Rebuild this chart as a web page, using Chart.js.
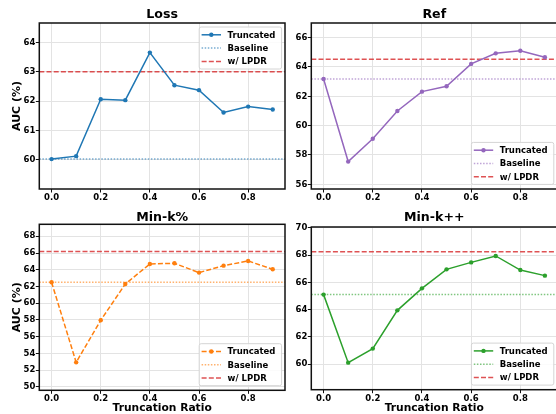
<!DOCTYPE html>
<html>
<head>
<meta charset="utf-8">
<script src="https://cdn.jsdelivr.net/npm/chart.js@4.4.0/dist/chart.umd.min.js"></script>
<style>
  html, body { margin: 0; padding: 0; background: #fff; width: 556px; height: 414px; overflow: hidden; position: relative; }
  .panel { position: absolute; }
  canvas { display: block; }
</style>
</head>
<body>
<div class="panel" style="left:0;top:0"><canvas id="loss" width="290" height="207"></canvas></div>
<div class="panel" style="left:290px;top:0"><canvas id="ref" width="270" height="207"></canvas></div>
<div class="panel" style="left:0;top:207px"><canvas id="mink" width="290" height="209"></canvas></div>
<div class="panel" style="left:290px;top:207px"><canvas id="minkpp" width="270" height="209"></canvas></div>

<script>
// truncation ratios on the x axis
const ratios = [0.0, 0.1, 0.2, 0.3, 0.4, 0.5, 0.6, 0.7, 0.8, 0.9];
const xTicks = [0.0, 0.2, 0.4, 0.6, 0.8];

// AUC (%) per method
const lossAuc = [60.02, 60.12, 62.06, 62.03, 63.65, 62.54, 62.37, 61.61, 61.81, 61.71];
const lossBaseline = 60.02;
const lossLpdr = 63.0;
const lossTicks = [60, 61, 62, 63, 64];

const refAuc = [63.18, 57.55, 59.11, 61.0, 62.32, 62.69, 64.21, 64.93, 65.11, 64.66];
const refBaseline = 63.18;
const refLpdr = 64.52;
const refTicks = [56, 58, 60, 62, 64, 66];

const minkAuc = [62.5, 52.94, 57.96, 62.3, 64.69, 64.77, 63.66, 64.49, 65.05, 64.06];
const minkBaseline = 62.5;
const minkLpdr = 66.17;
const minkTicks = [50, 52, 54, 56, 58, 60, 62, 64, 66, 68];

const minkppAuc = [65.1, 60.12, 61.15, 63.95, 65.56, 66.95, 67.46, 67.93, 66.9, 66.49];
const minkppBaseline = 65.1;
const minkppLpdr = 68.24;
const minkppTicks = [60, 62, 64, 66, 68, 70];

const FONT = "'DejaVu Sans', sans-serif";
const RED = 'rgba(214,39,40,0.8)';
const DOTS = [1.5, 1.6];
const DASH = [5, 2.2];

// axhline-style reference lines across the full plot width
const refLines = {
  id: 'refLines',
  beforeDatasetsDraw(chart, args, o) {
    const { ctx, chartArea: a, scales: { y } } = chart;
    ctx.save();
    ctx.lineWidth = 1.5;
    o.lines.forEach(l => {
      const py = y.getPixelForValue(l.value);
      ctx.strokeStyle = l.color;
      ctx.setLineDash(l.dash);
      ctx.beginPath();
      ctx.moveTo(a.left, py);
      ctx.lineTo(a.right, py);
      ctx.stroke();
    });
    ctx.restore();
  }
};

// box frame, panel title and legend
const decor = {
  id: 'decor',
  afterDatasetsDraw(chart, args, o) {
    const { ctx, chartArea: a } = chart;
    ctx.save();
    ctx.strokeStyle = '#111';
    ctx.lineWidth = 1.5;
    ctx.setLineDash([]);
    ctx.strokeRect(a.left, a.top, a.right - a.left, a.bottom - a.top);

    ctx.fillStyle = '#000';
    ctx.font = `bold 12.6px ${FONT}`;
    ctx.textAlign = 'center';
    ctx.textBaseline = 'middle';
    ctx.fillText(o.title, (a.left + a.right) / 2, o.titleY);

    const w = 82.4, h = 42, row = 13.3;
    const x = a.right - 3.4 - w;
    const y = o.corner === 'top' ? a.top + 4 : a.bottom - 4.6 - h;
    ctx.beginPath();
    ctx.roundRect(x, y, w, h, 2);
    ctx.fillStyle = 'rgba(255,255,255,0.85)';
    ctx.fill();
    ctx.strokeStyle = '#d4d4d4';
    ctx.lineWidth = 1;
    ctx.stroke();

    ctx.font = `bold 8.5px ${FONT}`;
    ctx.textAlign = 'left';
    o.items.forEach((it, i) => {
      const cy = y + 7.8 + i * row;
      ctx.strokeStyle = it.color;
      ctx.lineWidth = 1.5;
      ctx.setLineDash(it.dash);
      ctx.beginPath();
      ctx.moveTo(x + 2.4, cy);
      ctx.lineTo(x + 21.8, cy);
      ctx.stroke();
      if (it.marker) {
        ctx.setLineDash([]);
        ctx.fillStyle = it.color;
        ctx.beginPath();
        ctx.arc(x + 12.1, cy, 2.2, 0, Math.PI * 2);
        ctx.fill();
      }
      ctx.fillStyle = '#000';
      ctx.fillText(it.label, x + 28.4, cy + 0.5);
    });
    ctx.restore();
  }
};

function tickFont() {
  return { family: FONT, size: 8.5, weight: 'bold' };
}

function makePanel(id, p) {
  const lineDash = p.dashed ? DASH : [];
  return new Chart(document.getElementById(id), {
    type: 'line',
    data: {
      datasets: [{
        label: 'Truncated',
        data: ratios.map((r, i) => ({ x: r, y: p.values[i] })),
        borderColor: p.color,
        backgroundColor: p.color,
        borderWidth: 1.5,
        borderDash: lineDash,
        pointRadius: 2.2,
        pointBorderWidth: 0,
        pointHoverRadius: 0,
        tension: 0
      }]
    },
    options: {
      responsive: false,
      animation: false,
      events: [],
      layout: { padding: { left: 0, top: p.padTop, right: p.padRight, bottom: 0 } },
      plugins: {
        legend: { display: false },
        tooltip: { enabled: false },
        refLines: {
          lines: [
            { value: p.baseline, color: p.light, dash: DOTS },
            { value: p.lpdr, color: RED, dash: DASH }
          ]
        },
        decor: {
          title: p.title,
          titleY: p.titleY,
          corner: p.corner,
          items: [
            { label: 'Truncated', color: p.color, dash: lineDash, marker: true },
            { label: 'Baseline', color: p.light, dash: DOTS },
            { label: 'w/ LPDR', color: RED, dash: DASH }
          ]
        }
      },
      scales: {
        x: {
          type: 'linear',
          min: -0.05,
          max: 0.95,
          afterBuildTicks: s => { s.ticks = xTicks.map(v => ({ value: v })); },
          afterFit: s => { s.height = p.xh; },
          ticks: { font: tickFont(), color: '#000', padding: 0, maxRotation: 0, autoSkip: false,
                   callback: v => v.toFixed(1) },
          grid: { color: '#e3e3e3', lineWidth: 1, tickLength: 3.5, tickColor: '#111', tickWidth: 1 },
          border: { display: false },
          title: { display: p.xTitle, text: 'Truncation Ratio', color: '#000',
                   font: { family: FONT, size: 10.7, weight: 'bold' }, padding: { top: 0, bottom: 0.9 } }
        },
        y: {
          min: p.yMin,
          max: p.yMax,
          afterBuildTicks: s => { s.ticks = p.yTicks.map(v => ({ value: v })); },
          afterFit: s => { s.width = p.yw; },
          ticks: { font: tickFont(), color: '#000', padding: 0.5, autoSkip: false },
          grid: { color: '#e3e3e3', lineWidth: 1, tickLength: 3.5, tickColor: '#111', tickWidth: 1 },
          border: { display: false },
          title: { display: p.yTitle, text: 'AUC (%)', color: '#000',
                   font: { family: FONT, size: 11, weight: 'bold' }, padding: { top: 10.1, bottom: 0 } }
        }
      }
    },
    plugins: [refLines, decor]
  });
}

makePanel('loss', {
  title: 'Loss', values: lossAuc, baseline: lossBaseline, lpdr: lossLpdr, yTicks: lossTicks,
  yMin: 59.0, yMax: 64.66, color: '#1f77b4', light: 'rgba(31,119,180,0.6)', dashed: false,
  corner: 'top', titleY: 15, padTop: 23, padRight: 5, yw: 39.3, xh: 18, yTitle: true, xTitle: false
});

makePanel('ref', {
  title: 'Ref', values: refAuc, baseline: refBaseline, lpdr: refLpdr, yTicks: refTicks,
  yMin: 55.68, yMax: 67.0, color: '#9467bd', light: 'rgba(148,103,189,0.6)', dashed: false,
  corner: 'bottom', titleY: 15, padTop: 23, padRight: 2.8, yw: 21.3, xh: 18, yTitle: false, xTitle: false
});

makePanel('mink', {
  title: 'Min-k%', values: minkAuc, baseline: minkBaseline, lpdr: minkLpdr, yTicks: minkTicks,
  yMin: 49.6, yMax: 69.43, color: '#ff7f0e', light: 'rgba(255,127,14,0.6)', dashed: true,
  corner: 'bottom', titleY: 10.7, padTop: 17.3, padRight: 5, yw: 39.3, xh: 25.7, yTitle: true, xTitle: true
});

makePanel('minkpp', {
  title: 'Min-k++', values: minkppAuc, baseline: minkppBaseline, lpdr: minkppLpdr, yTicks: minkppTicks,
  yMin: 58.14, yMax: 70.05, color: '#2ca02c', light: 'rgba(44,160,44,0.6)', dashed: false,
  corner: 'bottom', titleY: 10.7, padTop: 20, padRight: 2.8, yw: 21.3, xh: 26.3, yTitle: false, xTitle: true
});
</script>
</body>
</html>
